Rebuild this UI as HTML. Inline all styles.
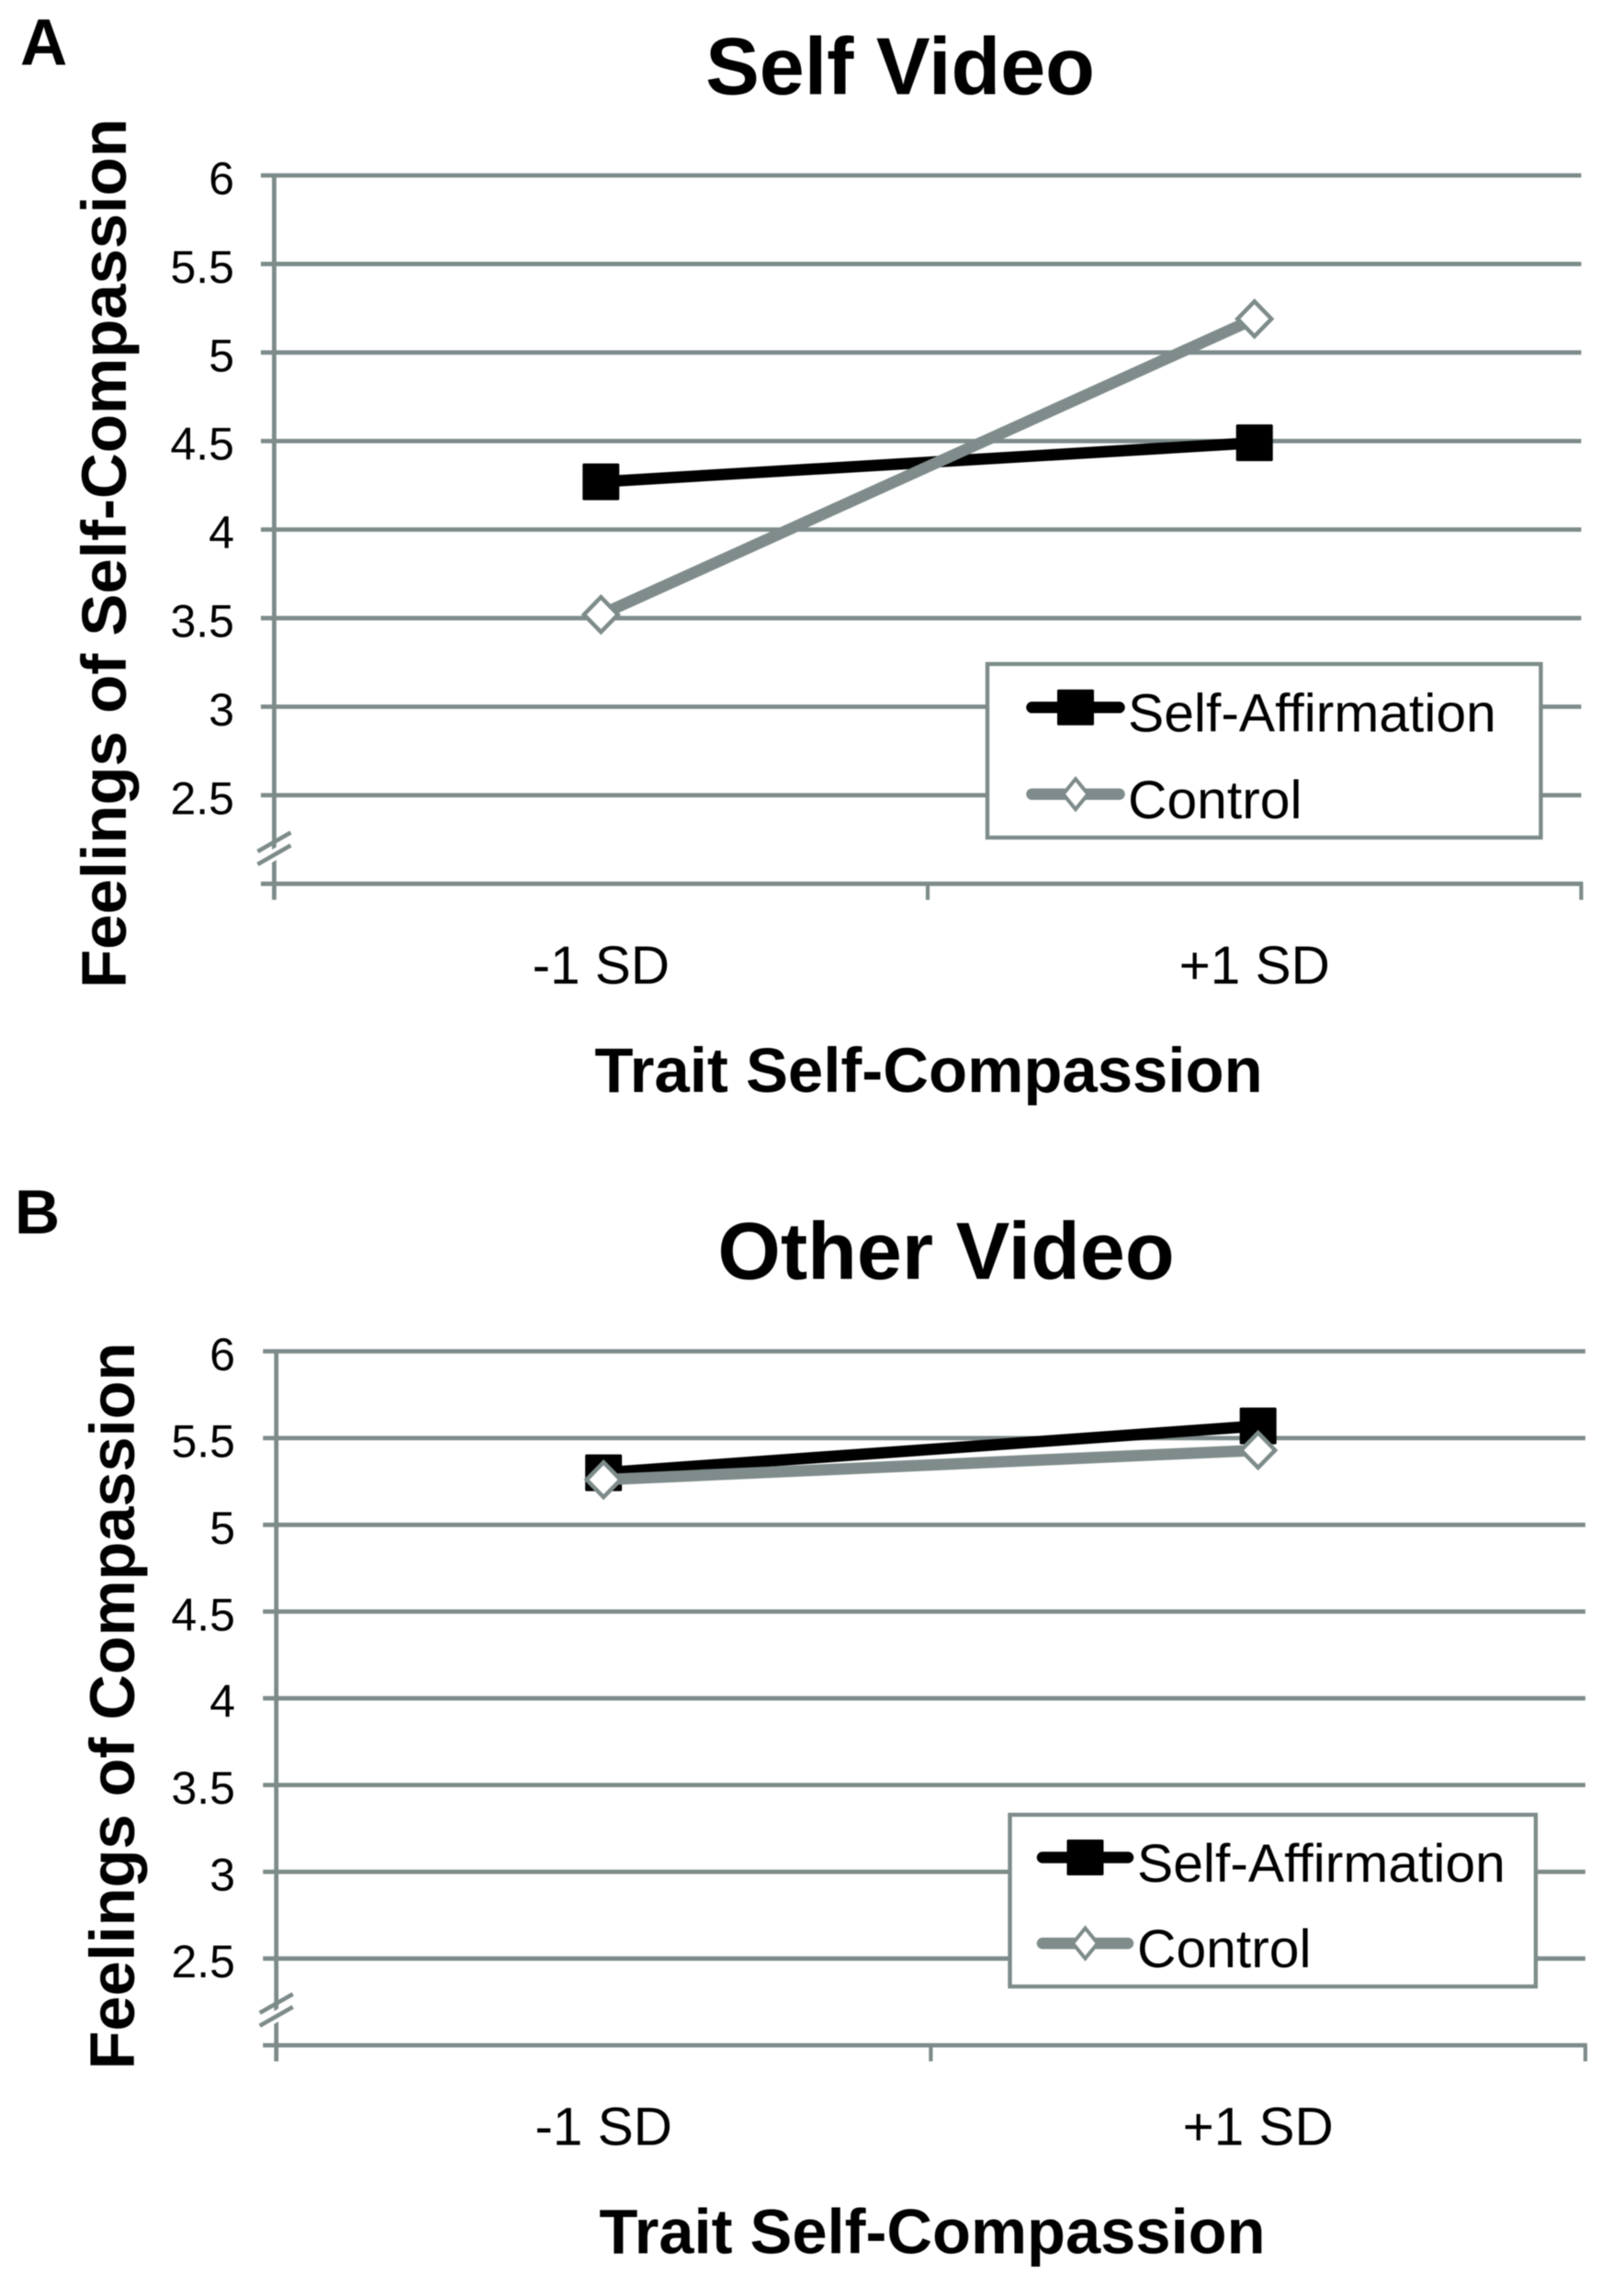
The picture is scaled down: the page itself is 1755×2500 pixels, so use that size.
<!DOCTYPE html>
<html lang="en">
<head>
<meta charset="utf-8">
<title>Self Video and Other Video: Feelings of Compassion</title>
<style>
  html, body { margin: 0; padding: 0; background: #fff; }
  #figure { display: block; width: 1755px; height: 2500px; background: #fff; filter: blur(0.6px); }
  text { font-family: "Liberation Sans", Arial, sans-serif; fill: #000; }
  .bold { font-weight: 700; }
</style>
</head>
<body>
<svg id="figure" xmlns="http://www.w3.org/2000/svg" width="1755" height="2500" viewBox="0 0 1755 2500">
  <rect x="0" y="0" width="1755" height="2500" fill="#ffffff"/>
  <g id="panel-a">
    <text class="bold" x="22" y="70.5" font-size="71">A</text>
    <text class="bold" x="980" y="102.5" font-size="88" text-anchor="middle">Self Video</text>
    <text class="bold" font-size="69" text-anchor="middle" transform="translate(137 602.5) rotate(-90)">Feelings of Self-Compassion</text>
    <text class="bold" x="1011" y="1189" font-size="68.9" text-anchor="middle">Trait Self-Compassion</text>
  </g>
  <g id="panel-b">
    <text class="bold" x="16" y="1343" font-size="68">B</text>
    <text class="bold" x="1030" y="1392.5" font-size="88" text-anchor="middle">Other Video</text>
    <text class="bold" font-size="68.5" text-anchor="middle" transform="translate(146 1857.5) rotate(-90)">Feelings of Compassion</text>
    <text class="bold" x="1015" y="2453.5" font-size="68.7" text-anchor="middle">Trait Self-Compassion</text>
  </g>
</svg>
<script>
// Chart data
var categories = ['-1 SD', '+1 SD'];
var seriesNames = ['Self-Affirmation', 'Control'];
var yTickValues = [2.5, 3, 3.5, 4, 4.5, 5, 5.5, 6];
var yTickLabels = ['2.5', '3', '3.5', '4', '4.5', '5', '5.5', '6'];
var yAxisMin = 2;
var yAxisMax = 6;
var selfVideoSelfAffirmation = [4.27, 4.49];
var selfVideoControl = [3.52, 5.19];
var otherVideoSelfAffirmation = [5.30, 5.57];
var otherVideoControl = [5.26, 5.43];

var NS = 'http://www.w3.org/2000/svg';
var GRID = '#7d8b8a';
var CONTROL = '#7f8c8b';

function make(parent, tag, attrs, text) {
  var node = document.createElementNS(NS, tag);
  for (var k in attrs) { node.setAttribute(k, attrs[k]); }
  if (text !== undefined) { node.textContent = text; }
  parent.appendChild(node);
  return node;
}

function diamondPoints(cx, cy, halfW, halfH) {
  return [cx, cy - halfH, cx + halfW, cy, cx, cy + halfH, cx - halfW, cy].join(' ');
}

function drawPanel(root, prefix, geo, selfValues, controlValues) {
  var plotW = geo.right - geo.left;

  function xCat(i) { return geo.left + plotW * (i + 0.5) / categories.length; }
  function yVal(v) { return geo.bottom - (v - yAxisMin) / (yAxisMax - yAxisMin) * (geo.bottom - geo.top); }

  // horizontal gridlines
  yTickValues.forEach(function (v, i) {
    var line = make(root, 'line', { x1: geo.left - 14.5, x2: geo.right, y1: yVal(v), y2: yVal(v), stroke: GRID, 'stroke-width': 4.8 });
    
    
    var label = make(root, 'text', { x: geo.labelRight, y: yVal(v) + 20.5, 'font-size': 50, 'text-anchor': 'end' }, yTickLabels[i]);
    
    
  });

  // baseline (x axis)
  var base = make(root, 'line', { x1: geo.left - 14.5, x2: geo.right + 2, y1: yVal(yAxisMin), y2: yVal(yAxisMin), stroke: GRID, 'stroke-width': 4.8 });
  
  

  // y axis
  var axis = make(root, 'line', { x1: geo.left, x2: geo.left, y1: yVal(yAxisMax), y2: yVal(yAxisMin) + 17.5, stroke: GRID, 'stroke-width': 4.8 });
  
  

  // x-axis ticks between categories
  for (var t = 1; t <= categories.length; t++) {
    var tx = geo.left + plotW * t / categories.length;
    var tick = make(root, 'line', { x1: tx, x2: tx, y1: yVal(yAxisMin), y2: yVal(yAxisMin) + 17.5, stroke: GRID, 'stroke-width': 4.2 });
    
    
  }

  // category labels
  categories.forEach(function (c, i) {
    var catLabel = make(root, 'text', { x: xCat(i), y: yVal(yAxisMin) + 108.5, 'font-size': 58.5, 'text-anchor': 'middle' }, c);
    
    
  });

  // axis-break marks
  var by = yVal(yAxisMin) - 39;
  var gap = make(root, 'polygon', {
    points: [geo.left - 18, by + 11, geo.left + 18, by - 10, geo.left + 18, by + 4, geo.left - 18, by + 25].join(' '),
    fill: '#ffffff'
  });
  
  
  [-6.5, 7.5].forEach(function (dy, i) {
    var slash = make(root, 'line', { x1: geo.left - 18, y1: by + dy + 10.3, x2: geo.left + 18, y2: by + dy - 10.3, stroke: GRID, 'stroke-width': 4.6 });
    
    
  });

  // series: Self-Affirmation
  var selfLine = make(root, 'line', { x1: xCat(0), y1: yVal(selfValues[0]), x2: xCat(1), y2: yVal(selfValues[1]), stroke: '#000000', 'stroke-width': 12.5 });
  
  
  selfValues.forEach(function (v, i) {
    var sq = make(root, 'rect', { x: xCat(i) - 20, y: yVal(v) - 20, width: 40, height: 40, rx: 1.5, fill: '#000000' });
    
    
  });

  // series: Control
  var ctrlLine = make(root, 'line', { x1: xCat(0), y1: yVal(controlValues[0]), x2: xCat(1), y2: yVal(controlValues[1]), stroke: CONTROL, 'stroke-width': 12.5 });
  
  
  controlValues.forEach(function (v, i) {
    var dm = make(root, 'polygon', { points: diamondPoints(xCat(i), yVal(v), 18.5, 19), fill: '#ffffff', stroke: GRID, 'stroke-width': 4.5 });
    
    
  });

  // legend
  var lg = geo.legend;
  var legend = make(root, 'g', {});
  
  
  var box = make(legend, 'rect', { x: lg.x0, y: lg.y0, width: lg.x1 - lg.x0, height: lg.y1 - lg.y0, fill: '#ffffff', stroke: GRID, 'stroke-width': 4.4 });
  
  

  var keyA = make(legend, 'line', { x1: lg.keyX0, x2: lg.keyX1, y1: lg.rowY[0], y2: lg.rowY[0], stroke: '#000000', 'stroke-width': 12.5, 'stroke-linecap': 'round' });
  
  
  var keyMid = (lg.keyX0 + lg.keyX1) / 2;
  var keySq = make(legend, 'rect', { x: keyMid - 20, y: lg.rowY[0] - 19.5, width: 40, height: 39, rx: 1.5, fill: '#000000' });
  
  
  var textA = make(legend, 'text', { x: lg.textX, y: lg.textY[0], 'font-size': 58.8 }, seriesNames[0]);
  
  

  var keyB = make(legend, 'line', { x1: lg.keyX0, x2: lg.keyX1, y1: lg.rowY[1], y2: lg.rowY[1], stroke: CONTROL, 'stroke-width': 12.5, 'stroke-linecap': 'round' });
  
  
  var keyDm = make(legend, 'polygon', { points: diamondPoints(keyMid, lg.rowY[1], 13.5, 16.5), fill: '#ffffff', stroke: GRID, 'stroke-width': 4 });
  
  
  var textB = make(legend, 'text', { x: lg.textX, y: lg.textY[1], 'font-size': 58.8 }, seriesNames[1]);
  
  
}

drawPanel(document.getElementById('panel-a'), 'panel-a',
  { left: 298.5, right: 1721.5, top: 191, bottom: 962.3, labelRight: 255,
    legend: { x0: 1075, x1: 1677.5, y0: 723, y1: 912, keyX0: 1123.5, keyX1: 1218.5, rowY: [770.3, 864.7], textX: 1228, textY: [796.5, 891] } },
  selfVideoSelfAffirmation, selfVideoControl);

drawPanel(document.getElementById('panel-b'), 'panel-b',
  { left: 300.8, right: 1726, top: 1471.4, bottom: 2227, labelRight: 256,
    legend: { x0: 1099.5, x1: 1672, y0: 1976, y1: 2163, keyX0: 1135, keyX1: 1228, rowY: [2022.5, 2116], textX: 1238, textY: [2049, 2142] } },
  otherVideoSelfAffirmation, otherVideoControl);
</script>
</body>
</html>
